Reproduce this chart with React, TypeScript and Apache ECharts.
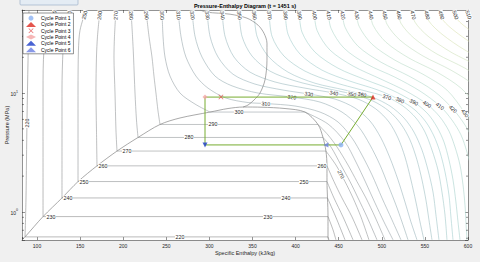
import React, { useEffect, useRef } from "react";
import * as echarts from "echarts";

const FONT = "'Liberation Sans', Arial, Helvetica, sans-serif";
const TITLE = "Pressure-Enthalpy Diagram (t = 1451 s)";
const X_NAME = "Specific Enthalpy (kJ/kg)";
const Y_NAME = "Pressure (MPa)";

// axis ranges
const H_MIN = 82.6;
const H_MAX = 600;
const P_MIN = 0.58;
const P_MAX = 50;
const X_LABEL_STEP = 50;

// saturation dome [h (kJ/kg), P (MPa)] : liquid branch up to the critical point, then vapour branch
const DOME: number[][] = [
  [82.6, 0.582], [86.1, 0.616], [107.0, 0.913], [129.0, 1.31], [147.6, 1.8], [169.6, 2.44],
  [192.8, 3.25], [217.2, 4.23], [242.7, 5.44], [265.9, 6.17], [300.7, 6.92], [321.6, 7.41],
  [339.0, 7.63],
  [361.0, 7.6], [387.7, 7.41], [410.9, 6.92], [426.0, 5.44], [431.8, 4.23], [435.2, 3.25],
  [436.4, 2.44], [436.4, 1.8], [437.0, 1.31], [437.6, 0.913], [437.6, 0.616], [438.2, 0.582],
];

// upper boundary curve rising from the critical point
const SPINODAL: number[][] = [
  [289.1, 50], [297.2, 47.9], [323.9, 46.1], [343.6, 42.7], [356.4, 37.3], [363.3, 31.9],
  [366.8, 26.3], [366.8, 18.9], [364.5, 12.9], [358.7, 10.0], [351.7, 8.73], [344.8, 7.93], [339.0, 7.63],
];

// sub-critical isotherms (K): liquid part (ends at saturated liquid) and vapour part (starts at saturated vapour)
const SUB_TEMPS = [220, 230, 240, 250, 260, 270, 280, 290, 300];
const SUB_LIQUID: number[][][] = [
  [[90.7, 50], [89.6, 18.9], [88.4, 5.93], [87.2, 1.26], [86.1, 0.616]],
  [[120.9, 50], [112.8, 33.8], [108.1, 23.0], [107.0, 10.6], [107.0, 0.913]],
  [[138.3, 50], [132.5, 33.8], [130.2, 23.0], [129.0, 10.6], [129.0, 1.31]],
  [[156.8, 50], [149.9, 33.8], [148.1, 23.0], [147.6, 10.6], [147.6, 1.8]],
  [[173.1, 50], [170.2, 30.1], [169.0, 20.1], [168.4, 10.6], [169.0, 4.89], [169.6, 2.44]],
  [[191.6, 50], [189.9, 30.1], [189.3, 20.1], [190.5, 10.0], [191.6, 4.89], [192.8, 3.25]],
  [[209.0, 50], [210.8, 30.1], [212.0, 20.1], [213.7, 10.0], [215.4, 5.93], [217.2, 4.23]],
  [[226.4, 50], [229.9, 30.1], [233.4, 20.1], [235.7, 13.9], [238.0, 10.0], [240.4, 7.06], [242.7, 5.44]],
  [[245.0, 50], [246.2, 30.1], [248.5, 20.1], [254.3, 13.9], [265.9, 10.0], [283.3, 8.08], [300.7, 6.92]],
];
const SUB_VAPOR: number[][][] = [
  [[437.6, 0.616], [438.7, 0.582]],
  [[437.6, 0.913], [443.4, 0.706], [446.8, 0.582]],
  [[437.0, 1.31], [448.0, 0.857], [457.3, 0.582]],
  [[436.4, 1.8], [444.5, 1.31], [455.0, 0.908], [466.6, 0.582]],
  [[436.4, 2.44], [444.5, 1.8], [453.8, 1.31], [465.4, 0.908], [477.0, 0.582]],
  [[435.2, 3.25], [446.8, 2.48], [457.3, 1.8], [466.6, 1.31], [475.8, 0.908], [485.1, 0.582]],
  [[431.8, 4.23], [441.0, 3.52], [452.6, 2.48], [463.1, 1.8], [472.4, 1.31], [482.8, 0.908], [494.4, 0.582]],
  [[426.0, 5.44], [437.6, 4.44], [448.0, 3.52], [460.8, 2.48], [471.2, 1.8], [481.6, 1.31], [492.1, 0.908], [503.7, 0.582]],
  [[410.9, 6.92], [437.6, 5.49], [457.3, 3.88], [470.0, 2.63], [481.6, 1.75], [492.1, 1.19], [502.5, 0.824], [513.0, 0.582]],
];

// super-critical isotherms (K)
const SUPER_TEMPS = [310, 320, 330, 340, 350, 360, 370, 380, 390, 400, 410, 420, 430, 440, 450, 460, 470, 480, 490, 500, 510];
const SUPER_CURVES: number[][][] = [
  [[263.6, 50], [267.0, 30.1], [272.8, 20.1], [284.4, 13.9], [298.4, 11.0], [319.2, 9.08], [344.8, 8.32], [365.6, 8.16], [399.3, 7.78], [428.3, 6.92], [449.2, 5.71], [465.4, 4.19], [477.0, 3.01], [488.6, 2.05], [500.2, 1.31], [511.8, 0.857], [522.2, 0.582]],
  [[279.8, 50], [283.3, 30.1], [291.4, 20.1], [306.5, 13.9], [326.2, 11.5], [356.4, 10.0], [395.8, 9.25], [428.3, 8.4], [453.8, 6.92], [472.4, 5.28], [486.3, 3.66], [497.9, 2.48], [507.2, 1.69], [516.4, 1.145], [523.4, 0.824], [530.4, 0.582]],
  [[297.2, 50], [300.7, 30.1], [310.0, 20.1], [327.4, 14.4], [352.9, 11.9], [385.4, 10.6], [415.5, 9.81], [445.7, 8.9], [468.9, 7.48], [486.3, 5.82], [499.0, 4.19], [509.5, 2.84], [518.8, 1.86], [526.9, 1.21], [533.8, 0.824], [540.8, 0.582]],
  [[314.6, 50], [318.1, 30.1], [328.5, 20.1], [347.1, 15.0], [376.1, 12.4], [410.9, 11.0], [444.5, 10.0], [472.4, 8.9], [493.2, 7.34], [508.3, 5.71], [518.8, 4.19], [526.9, 2.9], [533.8, 1.86], [539.6, 1.21], [544.3, 0.824], [548.9, 0.582]],
  [[334.3, 50], [337.8, 30.1], [349.4, 20.5], [370.3, 15.3], [400.4, 12.6], [434.1, 11.0], [465.4, 9.81], [489.8, 8.57], [508.3, 7.06], [522.2, 5.49], [532.7, 4.03], [540.8, 2.74], [546.6, 1.86], [551.2, 1.26], [554.7, 0.857], [558.2, 0.582]],
  [[351.7, 50], [355.2, 30.1], [368.0, 20.5], [391.2, 15.0], [422.5, 12.1], [457.3, 10.6], [488.6, 9.25], [509.5, 7.78], [525.7, 6.17], [537.3, 4.7], [546.6, 3.32], [553.6, 2.25], [559.4, 1.47], [562.8, 0.944], [566.3, 0.582]],
  [[369.1, 50], [372.6, 30.1], [386.5, 20.5], [410.9, 15.3], [443.4, 12.4], [477.0, 10.6], [506.0, 9.25], [524.6, 7.78], [539.6, 6.17], [550.1, 4.7], [558.2, 3.32], [565.2, 2.25], [569.8, 1.47], [573.3, 0.944], [575.6, 0.582]],
  [[387.7, 50], [391.2, 31.3], [405.1, 21.3], [430.6, 15.6], [463.1, 12.6], [495.6, 10.6], [521.1, 8.73], [538.5, 7.2], [551.2, 5.71], [560.5, 4.35], [567.5, 3.19], [573.3, 2.17], [577.9, 1.39], [580.2, 0.908], [582.6, 0.582]],
  [[403.9, 50], [407.4, 32.6], [422.5, 22.1], [449.2, 16.2], [481.6, 12.9], [511.8, 10.6], [537.3, 8.4], [553.6, 6.66], [564.0, 5.18], [572.1, 3.88], [577.9, 2.74], [582.6, 1.86], [586.0, 1.21], [588.4, 0.824], [590.7, 0.582]],
  [[421.3, 50], [424.8, 33.8], [439.9, 23.0], [466.6, 16.9], [499.0, 13.1], [528.0, 10.4], [552.4, 8.08], [567.5, 6.28], [577.9, 4.79], [584.9, 3.52], [590.7, 2.48], [594.2, 1.69], [596.5, 1.145], [597.6, 0.824], [598.8, 0.582]],
  [[437.6, 50], [441.0, 35.2], [456.1, 23.9], [482.8, 17.5], [515.3, 13.6], [544.3, 10.4], [567.5, 7.78], [581.4, 5.93], [591.9, 4.44], [598.8, 3.19], [604.6, 2.17], [609.3, 1.39], [611.6, 0.857], [613.9, 0.582]],
  [[453.8, 50], [457.3, 35.9], [472.4, 24.8], [499.0, 18.2], [531.5, 13.9], [560.5, 10.4], [582.6, 7.34], [596.5, 5.38], [607.0, 3.88], [613.9, 2.74], [618.5, 1.69]],
  [[470.0, 50], [473.6, 36.6], [488.6, 25.8], [515.3, 18.9], [547.8, 14.4], [575.6, 10.6], [596.5, 6.79], [609.3, 4.89], [619.7, 3.32]],
  [[486.3, 50], [489.8, 37.3], [504.8, 26.8], [531.5, 19.7], [564.0, 15.0], [591.9, 11.0], [611.6, 7.48], [625.5, 4.89]],
  [[502.5, 50], [506.0, 38.0], [521.1, 27.9], [547.8, 20.5], [580.2, 15.6], [608.1, 11.5], [627.8, 7.93]],
  [[518.8, 50], [522.2, 38.7], [537.3, 29.0], [564.0, 21.3], [596.5, 16.2], [624.3, 11.9]],
  [[535.0, 50], [538.5, 39.5], [553.6, 30.1], [580.2, 22.1], [612.7, 16.9]],
  [[551.2, 50], [554.7, 40.3], [569.8, 31.3], [596.5, 23.0], [629.0, 17.5]],
  [[567.5, 50], [571.0, 41.1], [586.0, 32.6], [612.7, 23.9]],
  [[583.7, 50], [587.2, 41.9], [602.3, 33.8], [629.0, 24.8]],
  [[598.8, 50], [602.3, 42.7], [617.4, 35.2], [644.0, 25.8]],
];

// contour labels
const TOP_LABEL_TEMPS = [230, 240, 250, 260, 270, 280, 290, 300, 310, 320, 330, 340, 350, 360, 370, 380, 390, 400, 410, 420, 430, 440, 450, 460, 470, 480, 490, 500, 510];
const TOP_LABEL_P = 45;
// [T, h, P]
const INLINE_LABELS: number[][] = [
  [220, 88.4, 5.6], [220, 265.9, 0.616],
  [230, 116.2, 0.913], [230, 368.0, 0.913],
  [240, 136.0, 1.31], [240, 388.8, 1.31],
  [250, 154.5, 1.8], [250, 409.7, 1.8],
  [260, 176.6, 2.44], [260, 430.6, 2.44],
  [270, 204.4, 3.25], [270, 453.8, 2.09],
  [280, 276.3, 4.23], [290, 304.2, 5.44], [300, 334.3, 6.92], [310, 365.6, 8.16],
  [320, 395.8, 9.25], [330, 415.5, 9.81], [340, 444.5, 10.0], [350, 465.4, 9.81],
  [360, 477.0, 9.62], [370, 506.0, 9.25], [380, 521.1, 8.73], [390, 537.3, 8.4],
  [400, 552.4, 8.08], [410, 567.5, 7.78], [420, 582.6, 7.34], [430, 596.5, 6.79],
];

// refrigeration cycle state points
const CYCLE_NAMES = ["Cycle Point 1", "Cycle Point 2", "Cycle Point 3", "Cycle Point 4", "Cycle Point 5", "Cycle Point 6"];
const CYCLE_H = [452.6, 489.8, 313.4, 294.9, 294.9, 435.2];
const CYCLE_P = [3.66, 9.25, 9.25, 9.25, 3.66, 3.66];

const CYCLE_SYMBOLS = [
  "circle", "triangle",
  "path://M0,1L1,0L5,4L9,0L10,1L6,5L10,9L9,10L5,6L1,10L0,9L4,5Z",
  "diamond", "triangle", "triangle",
];
const CYCLE_ROT = [0, 0, 0, 0, 180, 90];
const CYCLE_COLORS = ["#8bb2f2", "#dd2a22", "#e04848", "#f4a5a5", "#1c3cc8", "#6b80e2"];
const CYCLE_LINE_COLOR = "#77AC30";
const AX = "#262626";
const DOME_COLOR = "#858585";

const COLOR_STOPS: [number, number[]][] = [
  [220, [140, 140, 140]],
  [290, [152, 157, 160]],
  [330, [156, 182, 188]],
  [380, [164, 206, 206]],
  [430, [186, 220, 202]],
  [480, [214, 226, 182]],
  [510, [230, 228, 170]],
];

function isoColor(T: number): string {
  for (let i = 0; i < COLOR_STOPS.length - 1; i++) {
    const [t0, c0] = COLOR_STOPS[i];
    const [t1, c1] = COLOR_STOPS[i + 1];
    if (T <= t1 || i === COLOR_STOPS.length - 2) {
      const f = Math.max(0, Math.min(1, (T - t0) / (t1 - t0)));
      const c = c0.map((v, k) => Math.round(v + (c1[k] - v) * f));
      return `rgb(${c[0]},${c[1]},${c[2]})`;
    }
  }
  return "#888";
}

function isoPolyline(T: number): number[][] {
  const si = SUB_TEMPS.indexOf(T);
  if (si >= 0) return [...SUB_LIQUID[si], ...SUB_VAPOR[si]];
  const pi = SUPER_TEMPS.indexOf(T);
  return pi >= 0 ? SUPER_CURVES[pi] : [];
}

function mkLine(data: number[][], color: string, smooth: boolean | number, width = 0.6, z = 2) {
  return {
    type: "line",
    data,
    smooth,
    symbol: "none",
    silent: true,
    z,
    clip: true,
    xAxisIndex: 0,
    yAxisIndex: 0,
    lineStyle: { color, width },
    emphasis: { disabled: true },
  };
}

function buildOption() {
  const series: any[] = [];
  SUB_TEMPS.forEach((T, i) => {
    const c = isoColor(T);
    const liq = SUB_LIQUID[i];
    const vap = SUB_VAPOR[i];
    series.push(mkLine(liq, c, 0.3));
    series.push(mkLine([liq[liq.length - 1], vap[0]], c, false));
    series.push(mkLine(vap, c, 0.3));
  });
  SUPER_TEMPS.forEach((T, i) => series.push(mkLine(SUPER_CURVES[i], isoColor(T), 0.3)));
  series.push(mkLine(DOME, DOME_COLOR, 0.3, 0.7, 3));
  series.push(mkLine(SPINODAL, DOME_COLOR, 0.3, 0.7, 3));

  const cyc = CYCLE_H.map((h, i) => [h, CYCLE_P[i]]);
  series.push({ ...mkLine([...cyc, cyc[0]], CYCLE_LINE_COLOR, false, 1, 5) });

  CYCLE_NAMES.forEach((name, i) => {
    series.push({
      type: "scatter",
      name,
      data: [[CYCLE_H[i], CYCLE_P[i]]],
      symbol: CYCLE_SYMBOLS[i],
      symbolRotate: CYCLE_ROT[i],
      symbolSize: 5,
      itemStyle: { color: CYCLE_COLORS[i] },
      z: 6,
      silent: true,
      xAxisIndex: 0,
      yAxisIndex: 0,
    });
  });

  const axisLine = { show: true, onZero: false, lineStyle: { color: AX, width: 0.5 } };
  const axisTick = { show: true, inside: true, length: 3, lineStyle: { color: AX, width: 0.5 } };
  const xFmt = (v: number) => (Math.abs(v / X_LABEL_STEP - Math.round(v / X_LABEL_STEP)) < 1e-6 ? String(Math.round(v)) : "");
  const yFmt = (v: number) => {
    const e = Math.log10(v);
    const r = Math.round(e);
    return Math.abs(e - r) < 1e-6 ? `{b|10}{s|${r}}` : "";
  };

  return {
    animation: false,
    backgroundColor: "#f0f0f0",
    textStyle: { fontFamily: FONT },
    grid: {
      left: 22, right: 12, top: 10, bottom: 22,
      show: true, backgroundColor: "#ffffff", borderWidth: 0,
      containLabel: false, outerBoundsMode: "none",
    },
    xAxis: [
      {
        type: "value", min: H_MIN, max: H_MAX, position: "bottom", splitNumber: 10,
        axisLine, axisTick, splitLine: { show: false },
        axisLabel: { fontSize: 5, color: AX, margin: 3.5, fontFamily: FONT, formatter: xFmt, showMinLabel: true, showMaxLabel: true, hideOverlap: false },
        name: X_NAME, nameLocation: "middle", nameGap: 10, nameMoveOverlap: false,
        nameTextStyle: { fontSize: 5.5, color: AX, fontFamily: FONT },
      },
      {
        type: "value", min: H_MIN, max: H_MAX, position: "top", splitNumber: 10,
        axisLine, axisTick, splitLine: { show: false }, axisLabel: { show: false },
      },
    ],
    yAxis: [
      {
        type: "log", logBase: 10, min: P_MIN, max: P_MAX, position: "left",
        axisLine, axisTick, splitLine: { show: false }, minorTick: { show: false },
        axisLabel: {
          margin: 4, color: AX, fontFamily: FONT, formatter: yFmt,
          rich: {
            b: { fontSize: 5, lineHeight: 7, verticalAlign: "bottom", color: AX, fontFamily: FONT },
            s: { fontSize: 3.6, lineHeight: 7, verticalAlign: "top", color: AX, fontFamily: FONT },
          },
        },
        name: Y_NAME, nameLocation: "middle", nameGap: 12, nameMoveOverlap: false,
        nameTextStyle: { fontSize: 5.5, color: AX, fontFamily: FONT },
      },
      {
        type: "log", logBase: 10, min: P_MIN, max: P_MAX, position: "right",
        axisLine, axisTick, splitLine: { show: false }, axisLabel: { show: false },
      },
    ],
    legend: {
      data: CYCLE_NAMES,
      orient: "vertical",
      left: 23, top: 13,
      padding: [2, 3, 1, 3],
      itemGap: 0, itemWidth: 10, itemHeight: 5,
      backgroundColor: "#ffffff",
      borderColor: AX, borderWidth: 0.5, borderRadius: 0,
      selectedMode: false,
      textStyle: { fontSize: 5, color: "#000", fontFamily: FONT, lineHeight: 6.3 },
      z: 8,
    },
    series,
  };
}

function staticGraphics(): any[] {
  return [
    {
      type: "rect", z: 10, silent: true,
      shape: { x: 20, y: -6, width: 58, height: 11, r: 1 },
      style: { fill: "#e4ecf4", stroke: "#9fb2c8", lineWidth: 0.7 },
    },
    {
      type: "text", z: 10, silent: true, x: 245, y: 6.3,
      style: { text: TITLE, fontSize: 5.5, fontWeight: "bold", fontFamily: FONT, fill: "#000", align: "center", verticalAlign: "middle" },
    },
  ];
}

function project(pts: number[][], p: number[]) {
  let best = { d: Infinity, x: p[0], y: p[1], ang: 0 };
  for (let i = 0; i < pts.length - 1; i++) {
    const [x1, y1] = pts[i];
    const [x2, y2] = pts[i + 1];
    const dx = x2 - x1, dy = y2 - y1;
    const L = dx * dx + dy * dy;
    if (L === 0) continue;
    let t = ((p[0] - x1) * dx + (p[1] - y1) * dy) / L;
    t = Math.max(0, Math.min(1, t));
    const x = x1 + t * dx, y = y1 + t * dy;
    const d = (x - p[0]) ** 2 + (y - p[1]) ** 2;
    if (d < best.d) best = { d, x, y, ang: Math.atan2(dy, dx) };
  }
  return best;
}

export default function App() {
  const ref = useRef<HTMLDivElement>(null);
  useEffect(() => {
    if (!ref.current) return;
    const chart = echarts.init(ref.current, null, { renderer: "svg" });
    const option: any = buildOption();
    option.graphic = staticGraphics();
    chart.setOption(option);

    const toPx = (v: number[]) => chart.convertToPixel({ seriesIndex: 0 }, v) as unknown as number[];
    const extra: any[] = [];

    // log-axis minor ticks (left and right)
    for (let d = -1; d <= 1; d++) {
      for (let m = 2; m <= 9; m++) {
        const P = m * Math.pow(10, d);
        if (P <= P_MIN || P >= P_MAX) continue;
        const [xl, y] = toPx([H_MIN, P]);
        const [xr] = toPx([H_MAX, P]);
        extra.push({ type: "line", z: 7, silent: true, shape: { x1: xl, y1: y, x2: xl + 2, y2: y }, style: { stroke: AX, lineWidth: 0.5 } });
        extra.push({ type: "line", z: 7, silent: true, shape: { x1: xr - 2, y1: y, x2: xr, y2: y }, style: { stroke: AX, lineWidth: 0.5 } });
      }
    }

    const addLabel = (T: number, target: number[]) => {
      const pts = isoPolyline(T).map(toPx);
      if (!pts.length) return;
      const b = project(pts, toPx(target));
      let a = -b.ang;
      while (a > Math.PI / 2 + 1e-9) a -= Math.PI;
      while (a <= -Math.PI / 2 + 1e-9) a += Math.PI;
      extra.push({
        type: "text", z: 4, silent: true, x: b.x, y: b.y, rotation: a,
        style: {
          text: String(T), fontSize: 5.3, fontFamily: FONT, fill: AX,
          align: "center", verticalAlign: "middle", backgroundColor: "#ffffff", padding: [0, 0.6],
        },
      });
    };
    TOP_LABEL_TEMPS.forEach((T) => {
      const first = isoPolyline(T)[0];
      addLabel(T, [first[0], TOP_LABEL_P]);
    });
    INLINE_LABELS.forEach(([T, h, P]) => addLabel(T, [h, P]));

    chart.setOption({ graphic: [...staticGraphics(), ...extra] }, { replaceMerge: ["graphic"] } as any);
    return () => chart.dispose();
  }, []);
  return (
    <div
      ref={ref}
      style={{ position: "fixed", left: 0, top: 0, width: 480, height: 262, background: "#f0f0f0" }}
    />
  );
}
